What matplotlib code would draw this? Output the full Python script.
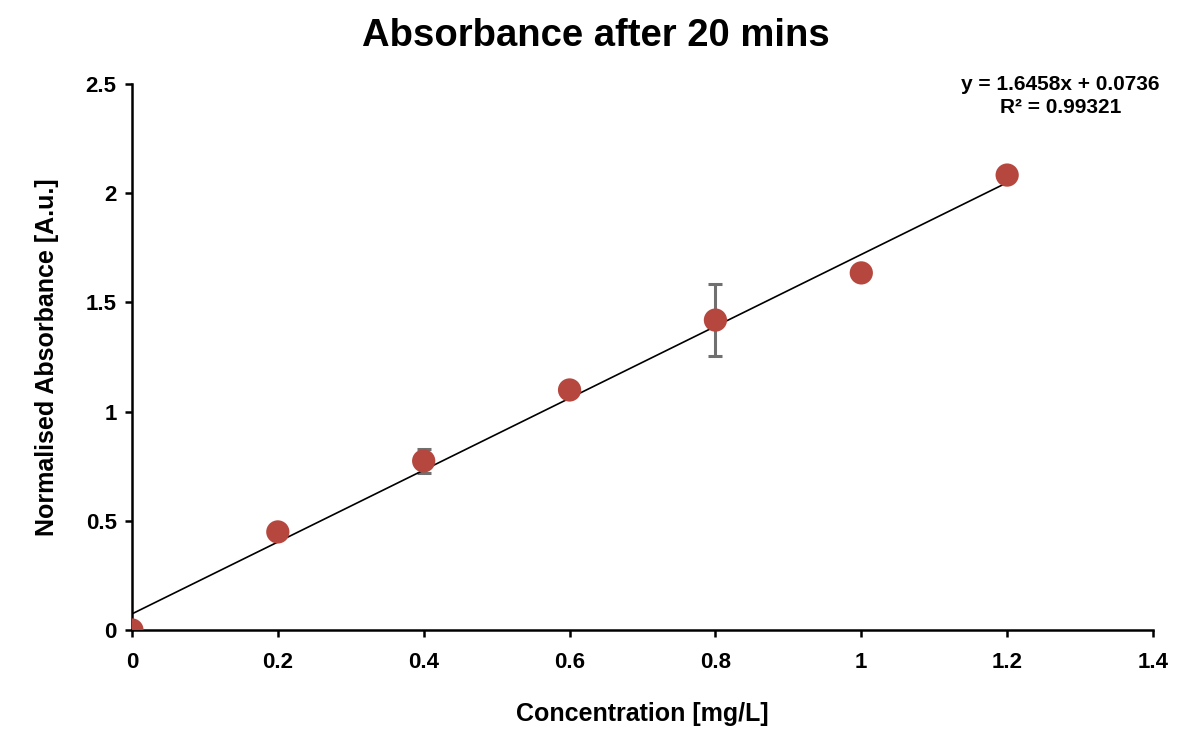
import numpy as np
import matplotlib; matplotlib.use("Agg"); import matplotlib.pyplot as plt

plt.rcParams['font.family'] = ['Liberation Sans', 'DejaVu Sans']
plt.rcParams['font.weight'] = 'bold'

conc = [0, 0.2, 0.4, 0.6, 0.8, 1.0, 1.2]
absorb = [0, 0.449, 0.774, 1.099, 1.419, 1.635, 2.083]
err = [0, 0, 0.055, 0, 0.163, 0.03, 0]
slope, intercept = 1.6458, 0.0736

fig = plt.figure(figsize=(11.92, 7.31), dpi=100)
ax = fig.add_axes([0.1107, 0.1382, 0.8566, 0.7469])

xl = np.array([0, 1.2])
ax.plot(xl, slope*xl + intercept, color="black", lw=1.2, zorder=2)
ax.errorbar(conc, absorb, yerr=err, fmt="none", ecolor="#707070", elinewidth=2.2, capsize=5, capthick=2.2, zorder=1)
ax.scatter(conc, absorb, s=280, color="#B5473F", edgecolors="none", zorder=3)

ax.set_xlim(0, 1.4); ax.set_ylim(0, 2.5)
ax.set_xticks([0, 0.2, 0.4, 0.6, 0.8, 1, 1.2, 1.4])
ax.set_xticklabels(["0", "0.2", "0.4", "0.6", "0.8", "1", "1.2", "1.4"])
ax.set_yticks([0, 0.5, 1, 1.5, 2, 2.5])
ax.set_yticklabels(["0", "0.5", "1", "1.5", "2", "2.5"])
for s in ("top", "right"): ax.spines[s].set_visible(False)
for s in ("left", "bottom"): ax.spines[s].set_linewidth(1.8)
ax.tick_params(direction="out", length=5, width=1.8, labelsize=16, pad=6)
ax.tick_params(axis="x", pad=11)
for t in ax.get_xticklabels() + ax.get_yticklabels(): t.set_fontweight("bold")
ax.set_xlabel("Concentration [mg/L]", fontsize=18, fontweight="bold", labelpad=21)
ax.set_ylabel("Normalised Absorbance [A.u.]", fontsize=18, fontweight="bold", labelpad=19)
fig.suptitle("Absorbance after 20 mins", fontsize=27.5, fontweight="bold", y=0.975)
ax.text(1.273, 2.445, f"y = {slope}x + {intercept}\nR² = 0.99321", ha="center", va="center",
        fontsize=15, fontweight="bold", linespacing=1.3)

plt.savefig("out.png", dpi=100)
